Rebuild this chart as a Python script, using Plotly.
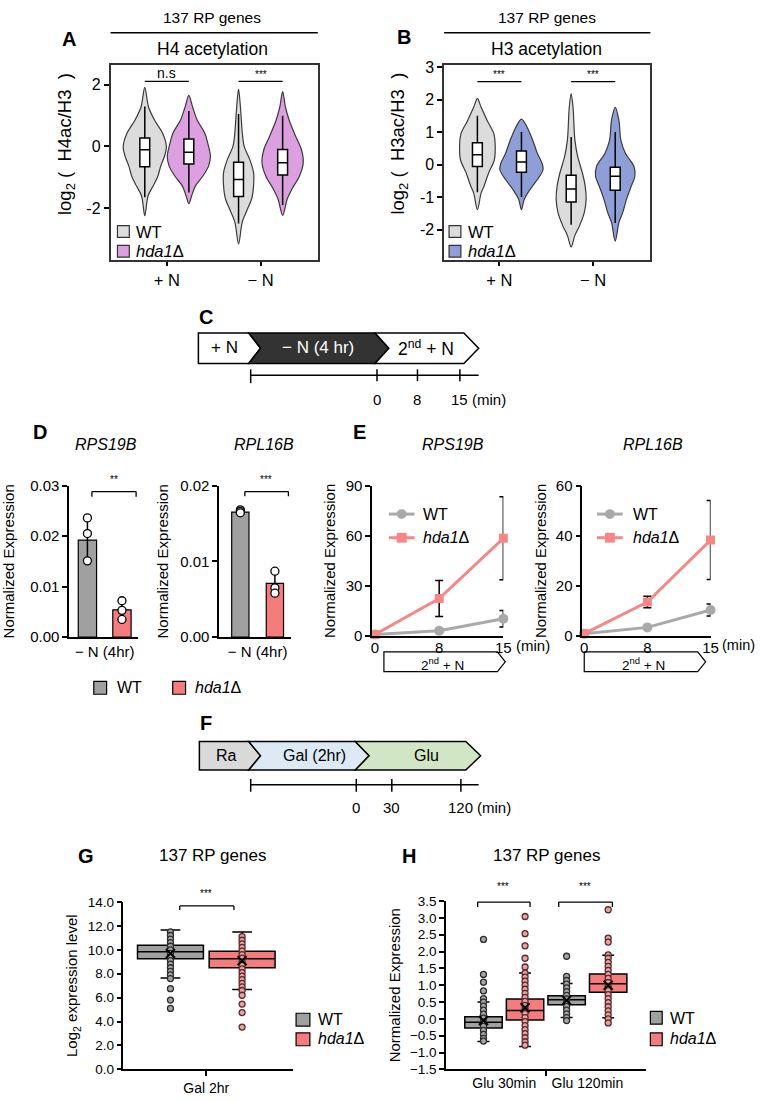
import plotly.graph_objects as go

W, H = 761, 1102
FONT = "Liberation Sans, Arial, sans-serif"


def X(px):
    return px / W


def Y(py):
    return 1 - py / H


# ------------------------------------------------------------------ DATA
conditions = ["+ N", "− N"]
strains = ["WT", "hda1Δ"]

# Panel A (H4 acetylation) violin outlines: y levels and half-widths
A_wt_plus_y = [1.92, 1.28, 0.85, 0.43, 0.0, -0.32, -0.64, -0.96, -1.28, -1.6, -2.25]
A_wt_plus_w = [0, 0.04, 0.105, 0.19, 0.23, 0.21, 0.17, 0.14, 0.09, 0.035, 0]
A_hd_plus_y = [1.66, 1.28, 0.85, 0.43, 0.0, -0.32, -0.64, -0.96, -1.28, -1.6, -1.86]
A_hd_plus_w = [0, 0.04, 0.09, 0.17, 0.21, 0.23, 0.21, 0.15, 0.07, 0.03, 0]
A_wt_minus_y = [1.86, 1.28, 0.43, 0.0, -0.43, -0.85, -1.28, -1.7, -2.0, -2.45, -3.17]
A_wt_minus_w = [0, 0.02, 0.04, 0.06, 0.12, 0.16, 0.16, 0.14, 0.10, 0.04, 0]
A_hd_minus_y = [1.78, 1.28, 0.85, 0.32, -0.1, -0.53, -0.96, -1.38, -1.7, -2.24]
A_hd_minus_w = [0, 0.03, 0.07, 0.14, 0.2, 0.22, 0.18, 0.10, 0.05, 0]
# box stats order: WT +N, hda1 +N, WT -N, hda1 -N
A_q1 = [-0.66, -0.57, -1.63, -0.93]
A_med = [-0.11, -0.19, -1.07, -0.53]
A_q3 = [0.27, 0.24, -0.51, -0.10]
A_lo = [-1.65, -1.5, -2.5, -1.9]
A_hi = [1.3, 1.15, 1.05, 1.0]

# Panel B (H3 acetylation)
B_wt_plus_y = [2.03, 1.76, 1.35, 0.95, 0.55, 0.14, -0.26, -0.67, -0.87, -1.39]
B_wt_plus_w = [0, 0.04, 0.105, 0.175, 0.19, 0.18, 0.12, 0.07, 0.04, 0]
B_hd_plus_y = [1.40, 1.15, 0.75, 0.34, 0.04, -0.16, -0.46, -0.77, -1.07, -1.39]
B_hd_plus_w = [0, 0.06, 0.12, 0.17, 0.22, 0.23, 0.17, 0.09, 0.03, 0]
B_wt_minus_y = [2.18, 1.76, 0.75, 0.24, -0.26, -0.67, -1.07, -1.48, -1.88, -2.18, -2.54]
B_wt_minus_w = [0, 0.02, 0.04, 0.07, 0.12, 0.15, 0.16, 0.14, 0.09, 0.04, 0]
B_hd_minus_y = [1.76, 1.35, 0.75, 0.34, -0.06, -0.36, -0.67, -1.07, -1.48, -1.78, -2.36]
B_hd_minus_w = [0, 0.04, 0.06, 0.11, 0.2, 0.21, 0.17, 0.12, 0.08, 0.04, 0]
B_q1 = [-0.06, -0.24, -1.15, -0.79]
B_med = [0.30, 0.08, -0.75, -0.36]
B_q3 = [0.67, 0.42, -0.33, -0.08]
B_lo = [-0.85, -1.0, -1.85, -1.8]
B_hi = [1.5, 1.0, 0.85, 1.0]

# Panel D: normalized expression at -N (4hr)
D_rps_mean = [0.0192, 0.0054]
D_rps_sd = [0.0044, 0.0019]
D_rps_pts_wt = [0.0236, 0.0205, 0.0151]
D_rps_pts_hd = [0.0072, 0.0053, 0.0035]
D_rpl_mean = [0.0165, 0.0071]
D_rpl_sd = [0.0002, 0.0015]
D_rpl_pts_wt = [0.0168, 0.0166, 0.0164]
D_rpl_pts_hd = [0.0087, 0.0065, 0.0058]

# Panel E: time course after 2nd +N
E_time = ["0", "8", "15"]
E_rps_wt = [1.0, 3.2, 10.4]
E_rps_wt_err = [0.3, 1.0, 4.9]
E_rps_hd = [1.0, 22.5, 58.5]
E_rps_hd_err = [0.3, 10.8, 24.8]
E_rpl_wt = [1.0, 3.5, 10.4]
E_rpl_wt_err = [0.2, 0.5, 2.4]
E_rpl_hd = [1.0, 13.6, 38.3]
E_rpl_hd_err = [0.3, 2.3, 15.7]

# Panel G: log2 expression, Gal 2hr (WT, hda1)
G_q1 = [9.25, 8.5]
G_med = [9.85, 9.25]
G_q3 = [10.38, 9.88]
G_lo = [7.65, 6.68]
G_hi = [11.65, 11.5]
G_mean = [9.7, 9.1]
G_pts_wt = [11.5, 11.2, 10.9, 10.6, 10.3, 10.0, 9.7, 9.4, 9.1, 8.8, 8.5, 8.2,
            7.9, 7.6, 6.75, 5.8, 5.1]
G_pts_hd = [11.1, 10.8, 10.5, 10.2, 9.9, 9.6, 9.3, 9.0, 8.7, 8.4, 8.1, 7.8, 7.5,
            7.2, 6.9, 6.6, 6.2, 5.46, 4.75, 3.54]

# Panel H: normalized expression, Glu 30min / Glu 120min
H_groups = ["Glu 30min", "Glu 120min"]
H_q1 = [-0.27, -0.03, 0.42, 0.79]
H_med = [-0.10, 0.25, 0.57, 1.04]
H_q3 = [0.06, 0.59, 0.69, 1.33]
H_lo = [-0.67, -0.82, 0.04, 0.03]
H_hi = [0.50, 1.36, 1.05, 1.89]
H_mean = [-0.05, 0.33, 0.55, 1.0]
H_pts_wt30 = [2.36, 1.32, 1.09, 0.83, 0.6, 0.5, 0.38, 0.26, 0.14, 0.02, -0.1, -0.22,
              -0.34, -0.46, -0.58, -0.66]
H_pts_hd30 = [3.04, 2.53, 2.17, 1.8, 1.54, 1.36, 1.24, 1.12, 1.0, 0.88, 0.76, 0.64,
              0.52, 0.4, 0.28, 0.16, 0.04, -0.08, -0.2, -0.32, -0.44, -0.56, -0.68, -0.78]
H_pts_wt120 = [1.86, 1.26, 1.14, 1.03, 0.92, 0.81, 0.7, 0.59, 0.48, 0.37, 0.26, 0.15,
               0.04, -0.05]
H_pts_hd120 = [3.24, 2.4, 2.28, 1.9, 1.8, 1.68, 1.56, 1.44, 1.32, 1.2, 1.08, 0.96, 0.84,
               0.72, 0.6, 0.48, 0.36, 0.24, 0.12, 0.0, -0.12]

# ------------------------------------------------------------------ STYLE
C_VGRAY = "#dcdcdc"
C_VPINK = "#dc9fe0"
C_VBLUE = "#8e9fd8"
C_GRAY = "#a0a0a0"
C_RED = "#f47c7c"
C_LGRAY = "#a9a9a9"
C_LPINK = "#f58787"

fig = go.Figure()

# violin position offsets
vx = [0.765, 1.235, 1.765, 2.235]


def violin(xc, ys, ws, fill, xa, ya):
    xs = [xc + w for w in ws] + [xc - w for w in reversed(ws[:-1])]
    yy = list(ys) + list(reversed(ys[:-1]))
    fig.add_trace(go.Scatter(x=xs, y=yy, mode="lines", fill="toself", fillcolor=fill,
                             line=dict(color="#3a3a3a", width=1.2, shape="spline",
                                       smoothing=0.9),
                             xaxis=xa, yaxis=ya, hoverinfo="skip"))


def stat_box(pos, q1, med, q3, lo, hi, width, fill, xa, ya, lw=1.5, ww=0.0):
    fig.add_trace(go.Box(x=[pos], q1=[q1], median=[med], q3=[q3], lowerfence=[lo],
                         upperfence=[hi], width=width, fillcolor=fill,
                         line=dict(color="black", width=lw), whiskerwidth=ww,
                         boxpoints=False, xaxis=xa, yaxis=ya, hoverinfo="skip"))


# Panel A (boxes on an overlaying subplot so they sit above the violins)
violin(vx[0], A_wt_plus_y, A_wt_plus_w, C_VGRAY, "x", "y")
violin(vx[1], A_hd_plus_y, A_hd_plus_w, C_VPINK, "x", "y")
violin(vx[2], A_wt_minus_y, A_wt_minus_w, C_VGRAY, "x", "y")
violin(vx[3], A_hd_minus_y, A_hd_minus_w, C_VPINK, "x", "y")
for i in range(4):
    stat_box(vx[i], A_q1[i], A_med[i], A_q3[i], A_lo[i], A_hi[i], 0.105, "white", "x9", "y9")

# Panel B
violin(vx[0], B_wt_plus_y, B_wt_plus_w, C_VGRAY, "x2", "y2")
violin(vx[1], B_hd_plus_y, B_hd_plus_w, C_VBLUE, "x2", "y2")
violin(vx[2], B_wt_minus_y, B_wt_minus_w, C_VGRAY, "x2", "y2")
violin(vx[3], B_hd_minus_y, B_hd_minus_w, C_VBLUE, "x2", "y2")
for i in range(4):
    stat_box(vx[i], B_q1[i], B_med[i], B_q3[i], B_lo[i], B_hi[i], 0.105, "white", "x10", "y10")


# Panel D
def d_panel(means, sds, pw, ph, xa, ya, bw):
    fig.add_trace(go.Bar(x=[0, 1], y=means, width=bw, marker=dict(color=[C_GRAY, C_RED],
                         line=dict(color="black", width=1.2)),
                         error_y=dict(type="data", array=sds, color="black", thickness=1.5,
                                      width=0),
                         xaxis=xa, yaxis=ya, hoverinfo="skip"))
    fig.add_trace(go.Scatter(x=[0] * len(pw) + [1] * len(ph), y=pw + ph, mode="markers",
                             marker=dict(color="white", size=8,
                                         line=dict(color="black", width=1.3)),
                             xaxis=xa, yaxis=ya, cliponaxis=False, hoverinfo="skip"))


d_panel(D_rps_mean, D_rps_sd, D_rps_pts_wt, D_rps_pts_hd, "x3", "y3", 0.53)
d_panel(D_rpl_mean, D_rpl_sd, D_rpl_pts_wt, D_rpl_pts_hd, "x4", "y4", 0.5)


# Panel E
def e_panel(wt, wte, hd, hde, xa, ya):
    fig.add_trace(go.Scatter(x=E_time, y=wt, mode="lines+markers",
                             line=dict(color=C_LGRAY, width=3),
                             marker=dict(symbol="circle", size=10, color=C_LGRAY),
                             error_y=dict(type="data", array=wte, color="black",
                                          thickness=1.5, width=4),
                             xaxis=xa, yaxis=ya, cliponaxis=False, hoverinfo="skip"))
    fig.add_trace(go.Scatter(x=E_time, y=hd, mode="lines+markers",
                             line=dict(color=C_LPINK, width=3),
                             marker=dict(symbol="square", size=9, color=C_LPINK),
                             error_y=dict(type="data", array=hde, color="black",
                                          thickness=1.5, width=4),
                             xaxis=xa, yaxis=ya, cliponaxis=False, hoverinfo="skip"))


e_panel(E_rps_wt, E_rps_wt_err, E_rps_hd, E_rps_hd_err, "x5", "y5")
e_panel(E_rpl_wt, E_rpl_wt_err, E_rpl_hd, E_rpl_hd_err, "x6", "y6")


def pts(xpos, vals, fill, edge, xa, ya):
    fig.add_trace(go.Scatter(x=[xpos] * len(vals), y=vals, mode="markers",
                             marker=dict(size=6, color=fill, line=dict(color=edge, width=1.3)),
                             xaxis=xa, yaxis=ya, cliponaxis=False, hoverinfo="skip"))


def mean_mark(xs, ys, xa, ya):
    fig.add_trace(go.Scatter(x=xs, y=ys, mode="markers",
                             marker=dict(symbol="x-thin", size=9,
                                         line=dict(color="black", width=2)),
                             xaxis=xa, yaxis=ya, hoverinfo="skip"))


# Panel G
gx = [-0.5, 0.5]
gfill = [C_GRAY, C_RED]
for i in range(2):
    stat_box(gx[i], G_q1[i], G_med[i], G_q3[i], G_lo[i], G_hi[i], 0.92, gfill[i],
             "x7", "y7", lw=1.5, ww=0.3)
pts(gx[0], G_pts_wt, "#a5a5a5", "#2e2e2e", "x7", "y7")
pts(gx[1], G_pts_hd, "#e8a2a2", "#5a2a2a", "x7", "y7")
mean_mark(gx, G_mean, "x7", "y7")

# Panel H
hx = [-0.25, 0.25, 0.75, 1.25]
hfill = [C_GRAY, C_RED, C_GRAY, C_RED]
for i in range(4):
    stat_box(hx[i], H_q1[i], H_med[i], H_q3[i], H_lo[i], H_hi[i], 0.45, hfill[i],
             "x8", "y8", lw=1.5, ww=0.32)
pts(hx[0], H_pts_wt30, "#a5a5a5", "#2e2e2e", "x8", "y8")
pts(hx[1], H_pts_hd30, "#e8a2a2", "#5a2a2a", "x8", "y8")
pts(hx[2], H_pts_wt120, "#a5a5a5", "#2e2e2e", "x8", "y8")
pts(hx[3], H_pts_hd120, "#e8a2a2", "#5a2a2a", "x8", "y8")
mean_mark(hx, H_mean, "x8", "y8")

# ------------------------------------------------------------------ AXES
TF = dict(family=FONT, size=15, color="black")


def ax(px0, px1, horizontal, **kw):
    d = dict(showline=True, linecolor="black", linewidth=1.5, ticks="outside", ticklen=5,
             tickwidth=1.5, tickcolor="black", showgrid=False, zeroline=False,
             tickfont=TF, fixedrange=True)
    if horizontal:
        d["domain"] = [X(px0), X(px1)]
    else:
        d["domain"] = [Y(px1), Y(px0)]
    d.update(kw)
    return d


def ytitle(t, size=15, standoff=6):
    return dict(text=t, font=dict(family=FONT, size=size, color="black"), standoff=standoff)


NB = "\u00a0"
lay = {}
# A
A_xr = [0.4, 2.61]
A_yr = [-3.69, 2.64]
lay["xaxis"] = ax(110, 320, True, anchor="y", range=A_xr, tickvals=[1, 2],
                  ticktext=conditions, mirror=True, linecolor="#333", ticklen=4,
                  tickfont=dict(family=FONT, size=16.5, color="black"))
lay["yaxis"] = ax(57, 255, False, anchor="x", range=A_yr, tickvals=[-2, 0, 2],
                  ticktext=["-2", "0", "2"], mirror=True, linecolor="#333",
                  tickfont=dict(family=FONT, size=16, color="black"))
lay["xaxis9"] = dict(domain=[X(110), X(320)], range=A_xr, overlaying="x", anchor="y9",
                     visible=False, fixedrange=True)
lay["yaxis9"] = dict(domain=[Y(255), Y(57)], range=A_yr, overlaying="y", anchor="x9",
                     visible=False, fixedrange=True)
# B
B_xr = [0.41, 2.61]
B_yr = [-2.94, 3.06]
lay["xaxis2"] = ax(448, 657, True, anchor="y2", range=B_xr, tickvals=[1, 2],
                   ticktext=conditions, mirror=True, linecolor="#333", ticklen=4,
                   tickfont=dict(family=FONT, size=16.5, color="black"))
lay["yaxis2"] = ax(57, 255, False, anchor="x2", range=B_yr,
                   tickvals=[-2, -1, 0, 1, 2, 3], ticktext=["-2", "-1", "0", "1", "2", "3"],
                   mirror=True, linecolor="#333",
                   tickfont=dict(family=FONT, size=16, color="black"))
lay["xaxis10"] = dict(domain=[X(448), X(657)], range=B_xr, overlaying="x2", anchor="y10",
                      visible=False, fixedrange=True)
lay["yaxis10"] = dict(domain=[Y(255), Y(57)], range=B_yr, overlaying="y2", anchor="x10",
                      visible=False, fixedrange=True)
# D
lay["xaxis3"] = ax(68, 138, True, anchor="y3", range=[-0.53, 1.47], tickvals=[0.5],
                   ticktext=["− N (4hr)"], ticks="")
lay["yaxis3"] = ax(484, 638, False, anchor="x3", range=[0, 0.03],
                   tickvals=[0, 0.01, 0.02, 0.03], ticktext=["0.00", "0.01", "0.02", "0.03"],
                   title=ytitle("Normalized Expression", 15, 12))
lay["xaxis4"] = ax(220, 293, True, anchor="y4", range=[-0.614, 1.47], tickvals=[0.5],
                   ticktext=["− N (4hr)"], ticks="")
lay["yaxis4"] = ax(484, 638, False, anchor="x4", range=[0, 0.02],
                   tickvals=[0, 0.01, 0.02], ticktext=["0.00", "0.01", "0.02"],
                   title=ytitle("Normalized Expression", 15, 8))
# E
lay["xaxis5"] = ax(375, 508, True, anchor="y5", type="category", range=[-0.046, 2.0],
                   categoryorder="array", categoryarray=E_time, ticks="",
                   ticklabelstandoff=-3)
lay["yaxis5"] = ax(484, 637, False, anchor="x5", range=[0, 90], tickvals=[0, 30, 60, 90],
                   title=ytitle("Normalized Expression"))
lay["xaxis6"] = ax(588, 718, True, anchor="y6", type="category", range=[-0.03, 2.0],
                   categoryorder="array", categoryarray=E_time, ticks="",
                   ticklabelstandoff=-3)
lay["yaxis6"] = ax(484, 637, False, anchor="x6", range=[0, 60], tickvals=[0, 20, 40, 60],
                   title=ytitle("Normalized Expression"))
# G
lay["xaxis7"] = ax(123, 295, True, anchor="y7", range=[-1.157, 1.212], tickvals=[0],
                   ticktext=["Gal 2hr"], tickfont=dict(family=FONT, size=14, color="black"))
lay["yaxis7"] = ax(907, 1077, False, anchor="x7", range=[0, 14], dtick=2, tick0=0,
                   tickformat=".1f", tickfont=dict(family=FONT, size=13.5, color="black"),
                   title=ytitle("Log<sub>2</sub> expression level"))
# H
lay["xaxis8"] = ax(450, 653, True, anchor="y8", range=[-0.70, 1.71], tickvals=[0, 1],
                   ticktext=H_groups, ticks="",
                   tickfont=dict(family=FONT, size=14, color="black"),
                   minor=dict(tickvals=[0.5], ticks="outside", ticklen=5, tickwidth=1.5,
                              tickcolor="black"))
lay["yaxis8"] = ax(906, 1077, False, anchor="x8", range=[-1.5, 3.5], dtick=0.5,
                   tick0=-1.5, tickformat=".1f",
                   tickfont=dict(family=FONT, size=13.5, color="black"),
                   title=ytitle("Normalized Expression"))

# ------------------------------------------------------------------ DECORATIONS
shapes = []
anns = []


def text(t, x, y, size=15, xanchor="center", color="black", bold=False, italic=False,
         angle=0):
    if italic:
        t = "<i>" + t + "</i>"
    if bold:
        t = "<b>" + t + "</b>"
    anns.append(dict(text=t, x=X(x), y=Y(y), xref="paper", yref="paper", showarrow=False,
                     xanchor=xanchor, yanchor="middle", textangle=angle,
                     font=dict(family=FONT, size=size, color=color)))


def pline(x0, y0, x1, y1, color="black", width=1.5):
    shapes.append(dict(type="line", xref="paper", yref="paper", x0=X(x0), y0=Y(y0),
                       x1=X(x1), y1=Y(y1), line=dict(color=color, width=width)))


def prect(x0, y0, x1, y1, fill, color="black", width=1.2):
    shapes.append(dict(type="rect", xref="paper", yref="paper", x0=X(x0), y0=Y(y0),
                       x1=X(x1), y1=Y(y1), fillcolor=fill, line=dict(color=color, width=width)))


def ppath(points, fill, color="black", width=1.5, layer="above"):
    p = "M " + " L ".join(f"{X(a):.5f},{Y(b):.5f}" for a, b in points) + " Z"
    shapes.append(dict(type="path", xref="paper", yref="paper", path=p, fillcolor=fill,
                       line=dict(color=color, width=width), layer=layer))


def dline(xa, ya, x0, y0, x1, y1, width=1.3):
    shapes.append(dict(type="line", xref=xa, yref=ya, x0=x0, y0=y0, x1=x1, y1=y1,
                       line=dict(color="black", width=width)))


def bracket(xa, ya, x0, x1, ytop, ybot):
    dline(xa, ya, x0, ytop, x1, ytop)
    dline(xa, ya, x0, ytop, x0, ybot)
    dline(xa, ya, x1, ytop, x1, ybot)


HD = "<i>hda1</i>Δ"

# Panel letters
for L, x, y in [("A", 68, 30), ("B", 407, 28), ("C", 207, 313), ("D", 38, 430),
                ("E", 362, 430), ("F", 207, 725), ("G", 85, 860), ("H", 412, 860)]:
    text(L, x, y, size=20, bold=True)

# A/B y titles (placed as rotated text, as in the reference)
text("log<sub>2</sub>" + NB + "(" + NB + NB + "H4ac/H3" + NB + NB + ")", 65, 137, size=18.5,
     angle=-90)
text("log<sub>2</sub>" + NB + "(" + NB + NB + "H3ac/H3" + NB + NB + ")", 402, 137, size=18.5,
     angle=-90)

# A/B headers
text("137 RP genes", 213, 9, size=15.5)
text("137 RP genes", 552, 9, size=15.5)
pline(110, 24, 320, 24)
pline(448, 24, 657, 24)
text("H4 acetylation", 213, 41, size=17.5)
text("H3 acetylation", 552, 41, size=17.5)

# significance A/B
dline("x", "y", vx[0], 2.11, vx[1], 2.11)
dline("x", "y", vx[2], 2.11, vx[3], 2.11)
text("n.s", 167, 65, size=14)
text("***", 262, 67, size=10)
dline("x2", "y2", vx[0], 2.55, vx[1], 2.55)
dline("x2", "y2", vx[2], 2.55, vx[3], 2.55)
text("***", 504, 67, size=10)
text("***", 599, 67, size=10)

# legends A/B
prect(117, 220, 129, 232, C_VGRAY, "#333")
prect(117, 240, 129, 252, C_VPINK, "#333")
text("WT", 134, 226, size=16.5, xanchor="left")
text(HD, 134, 246, size=16.5, xanchor="left")
prect(453, 220, 465, 232, C_VGRAY, "#333")
prect(453, 240, 465, 252, C_VBLUE, "#333")
text("WT", 470, 226, size=16.5, xanchor="left")
text(HD, 470, 246, size=16.5, xanchor="left")

# Panel C schematic
ppath([(199, 329), (250, 329), (262, 344.5), (250, 360), (199, 360)], "white")
ppath([(250, 329), (378, 329), (392, 344.5), (378, 360), (250, 360), (262, 344.5)], "#333333")
ppath([(378, 329), (468, 329), (483, 344.5), (468, 360), (378, 360), (392, 344.5)], "white")
text("+ N", 225, 344, size=17)
text("− N (4 hr)", 320, 344, size=17, color="white")
text("2<sup>nd</sup> + N", 430, 344, size=17.5)
pline(252, 372, 483, 372)
pline(252, 366, 252, 380)
for tx in [380, 421, 464]:
    pline(tx, 366, tx, 378)
text("0", 380, 397, size=15)
text("8", 421, 397, size=15)
text("15", 464, 397, size=15)
text("(min)", 474, 397, size=15, xanchor="left")

# Panel D titles, brackets, legend
text("RPS19B", 105, 442, size=16, italic=True)
text("RPL16B", 265, 442, size=16, italic=True)
bracket("x3", "y3", 0.13, 1.41, 0.0288, 0.0278)
text("**", 113, 478, size=10)
bracket("x4", "y4", 0.13, 1.39, 0.0192, 0.0186)
text("***", 268, 478, size=10)
prect(93, 683, 106, 696, C_GRAY)
text("WT", 114, 689, size=16, xanchor="left")
prect(173, 683, 186, 696, C_RED)
text(HD, 194, 689, size=16, xanchor="left")

# Panel E titles, legends, schematic boxes
text("RPS19B", 457, 442, size=16, italic=True)
text("RPL16B", 660, 442, size=16, italic=True)
for lx, tx in [(392, 425), (603, 637)]:
    pline(lx, 513, lx + 26, 513, C_LGRAY, 3)
    shapes.append(dict(type="circle", xref="paper", yref="paper", x0=X(lx + 8), x1=X(lx + 18),
                       y0=Y(518), y1=Y(508), fillcolor=C_LGRAY, line=dict(color=C_LGRAY, width=0)))
    text("WT", tx, 513, size=16, xanchor="left")
    pline(lx, 537, lx + 26, 537, C_LPINK, 3)
    prect(lx + 8, 542, lx + 18, 532, C_LPINK, C_LPINK, 0)
    text(HD, tx, 537, size=16, xanchor="left")
text("(min)", 519, 646, size=15, xanchor="left")
text("(min)", 728, 646, size=14.5, xanchor="left")
ppath([(387, 653), (502, 653), (510, 663), (502, 673), (387, 673)], "white", width=1.2,
      layer="below")
text("2<sup>nd</sup> + N", 446, 665, size=13.5)
ppath([(590, 653), (705, 653), (713, 663), (705, 673), (590, 673)], "white", width=1.2,
      layer="below")
text("2<sup>nd</sup> + N", 650, 665, size=13.5)

# Panel F schematic
ppath([(200, 744), (250, 744), (262, 758.5), (250, 773), (200, 773)], "#d9d9d9")
ppath([(250, 744), (358, 744), (372, 758.5), (358, 773), (250, 773), (262, 758.5)], "#ddeaf6")
ppath([(358, 744), (470, 744), (485, 758.5), (470, 773), (358, 773), (372, 758.5)], "#d0e6c4")
text("Ra", 227, 758, size=16)
text("Gal (2hr)", 317, 758, size=16)
text("Glu", 430, 758, size=16)
pline(252, 788, 483, 788)
for tx in [252, 359, 395, 465]:
    pline(tx, 782, tx, 795)
text("0", 359, 811, size=15)
text("30", 395, 811, size=15)
text("120", 465, 811, size=15)
text("(min)", 479, 811, size=15, xanchor="left")

# Panel G / H titles, brackets, legends
text("137 RP genes", 213, 860, size=17)
text("137 RP genes", 552, 860, size=17)
bracket("x7", "y7", -0.37, 0.386, 13.67, 13.34)
text("***", 207, 898, size=10)
bracket("x8", "y8", -0.32, 0.31, 3.47, 3.32)
bracket("x8", "y8", 0.655, 1.30, 3.47, 3.32)
text("***", 508, 891, size=10)
text("***", 591, 891, size=10)
prect(298, 1020, 312, 1033, C_GRAY)
prect(298, 1040, 312, 1053, C_RED)
text("WT", 318, 1026, size=16, xanchor="left")
text(HD, 318, 1046, size=16, xanchor="left")
prect(657, 1018, 669, 1031, C_GRAY)
prect(657, 1040, 669, 1053, C_RED)
text("WT", 675, 1025, size=16, xanchor="left")
text(HD, 675, 1046, size=16, xanchor="left")

fig.update_layout(**lay)
fig.update_layout(width=W, height=H, margin=dict(l=0, r=0, t=0, b=0),
                  paper_bgcolor="white", plot_bgcolor="white", showlegend=False,
                  font=dict(family=FONT, color="black"), shapes=shapes, annotations=anns,
                  boxmode="overlay")

fig.write_html("out.html", config={"displayModeBar": False},
               post_script="document.body.style.margin='0';")
